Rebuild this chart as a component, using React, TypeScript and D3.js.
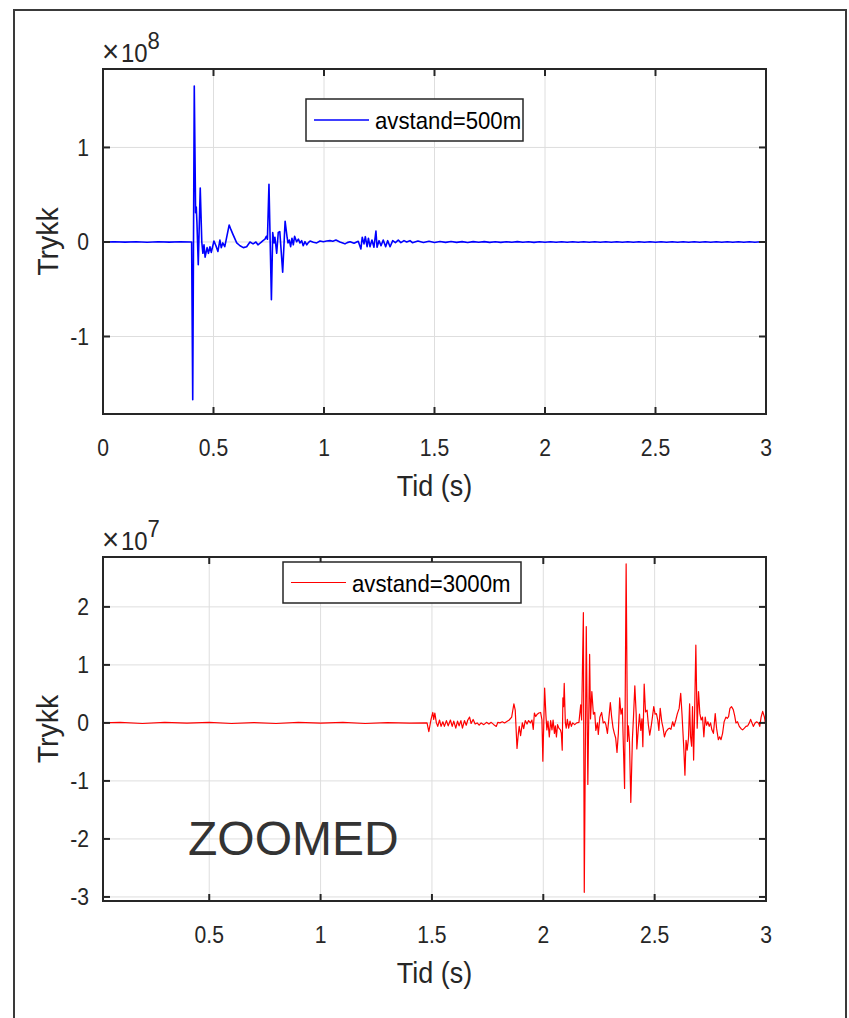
import React from "react";
import * as d3 from "d3";

// ---------- data ----------
const topXTicks = [0, 0.5, 1, 1.5, 2, 2.5, 3];
const topYTicks = [-1, 0, 1];
const bottomXTicks = [0.5, 1, 1.5, 2, 2.5, 3];
const bottomYTicks = [-3, -2, -1, 0, 1, 2];
const topLegend = "avstand=500m";
const bottomLegend = "avstand=3000m";
const xLabel = "Tid (s)";
const yLabel = "Trykk";
const topExponent = "8";
const bottomExponent = "7";
const overlayText = "ZOOMED";

// pressure in units of 1e8, time in s
const blueSeries: [number, number][] = [
  [0, 0], [0.05, 0.003], [0.1, -0.002], [0.15, 0.002], [0.2, -0.003], [0.25, 0.002], [0.3, -0.002], [0.35, 0.003], [0.4, 0],
  [0.401, 0], [0.406, -1.67], [0.413, 1.65], [0.419, 0.31], [0.422, 0.37], [0.425, 0.21], [0.431, -0.24], [0.44, 0.57],
  [0.447, 0.0], [0.452, -0.12], [0.457, -0.03], [0.462, -0.16], [0.471, -0.06], [0.477, -0.12], [0.484, -0.05], [0.49, -0.11],
  [0.502, 0.01], [0.511, -0.04], [0.52, -0.1], [0.529, 0.02], [0.535, -0.06], [0.542, -0.01], [0.551, -0.05], [0.557, 0.02],
  [0.571, 0.18], [0.579, 0.13], [0.588, 0.08], [0.605, -0.01], [0.62, -0.04], [0.635, -0.06], [0.65, -0.05], [0.665, 0.0],
  [0.679, -0.02], [0.692, 0], [0.701, -0.03], [0.715, -0.005], [0.724, 0.015], [0.733, 0.03], [0.739, 0.06], [0.744, 0.03],
  [0.751, 0.61], [0.762, -0.61], [0.768, 0.1], [0.774, -0.01], [0.778, 0.05], [0.786, -0.12], [0.793, 0.1], [0.8, 0.11],
  [0.813, -0.32], [0.824, 0.22], [0.833, 0.05], [0.837, -0.01], [0.843, 0.02], [0.849, -0.05], [0.855, 0.04], [0.861, -0.03],
  [0.867, 0.06], [0.876, 0.003], [0.884, 0.03], [0.891, -0.01], [0.899, 0.014], [0.906, -0.04], [0.914, 0.003], [0.922, -0.03],
  [0.929, -0.007], [0.937, 0.01], [0.952, -0.003], [0.967, -0.01], [0.982, 0.01], [0.997, 0.003], [1.012, 0.01], [1.027, 0.014],
  [1.04, 0.008], [1.054, 0.02], [1.072, 0], [1.085, -0.01], [1.095, -0.02], [1.105, -0.007], [1.118, 0.003], [1.136, -0.014],
  [1.155, 0.007], [1.167, -0.074], [1.173, 0.05], [1.181, -0.02], [1.187, 0.056], [1.195, -0.05], [1.201, 0.04], [1.208, -0.05],
  [1.217, 0.02], [1.226, -0.056], [1.235, 0.116], [1.24, -0.056], [1.249, 0.014], [1.258, -0.04], [1.268, 0.02], [1.279, -0.05],
  [1.288, 0.014], [1.299, -0.05], [1.311, 0.014], [1.323, -0.007], [1.336, 0.02], [1.348, -0.007], [1.362, 0.014], [1.374, 0],
  [1.389, 0.014], [1.4, -0.008], [1.425, 0.01], [1.45, -0.006], [1.475, 0.008], [1.5, -0.006], [1.525, 0.005], [1.55, -0.004],
  [1.575, 0.005], [1.6, -0.004], [1.625, 0.004], [1.65, -0.005], [1.675, 0.004], [1.7, -0.003], [1.725, 0.004], [1.75, -0.004],
  [1.775, 0.003], [1.8, -0.004], [1.825, 0.003], [1.85, -0.003], [1.875, 0.004], [1.9, -0.003], [1.925, 0.003], [1.95, -0.004],
  [1.975, 0.003], [2.0, -0.003], [2.025, 0.003], [2.05, -0.003], [2.075, 0.003], [2.1, -0.003], [2.125, 0.003], [2.15, -0.003],
  [2.175, 0.003], [2.2, -0.003], [2.225, 0.003], [2.25, -0.003], [2.275, 0.003], [2.3, -0.003], [2.325, 0.003], [2.35, -0.003],
  [2.375, 0.003], [2.4, -0.003], [2.425, 0.003], [2.45, -0.003], [2.475, 0.003], [2.5, -0.003], [2.525, 0.003], [2.55, -0.003],
  [2.575, 0.003], [2.6, -0.003], [2.625, 0.003], [2.65, -0.003], [2.675, 0.003], [2.7, -0.003], [2.725, 0.003], [2.75, -0.003],
  [2.775, 0.003], [2.8, -0.003], [2.825, 0.003], [2.85, -0.003], [2.875, 0.003], [2.9, -0.003], [2.925, 0.003], [2.95, -0.003],
  [2.975, 0.003], [3.0, 0],
];

// pressure in units of 1e7, time in s
const redSeries: [number, number][] = [
  [0.023, 0], [0.1, 0.01], [0.2, -0.01], [0.3, 0.01], [0.4, -0.005], [0.5, 0.01], [0.6, -0.01], [0.7, 0.005], [0.8, -0.01],
  [0.9, 0.01], [1.0, -0.005], [1.1, 0.01], [1.2, -0.01], [1.3, 0.005], [1.4, -0.005], [1.478, 0],
  [1.486, -0.15], [1.496, 0.06], [1.504, 0.18], [1.508, 0.06], [1.513, 0.17], [1.52, 0], [1.526, -0.06], [1.534, 0.05],
  [1.541, -0.06], [1.549, 0.02], [1.556, -0.06], [1.565, 0.04], [1.573, -0.05], [1.583, 0.05], [1.591, -0.06], [1.598, 0.03],
  [1.607, -0.09], [1.615, 0.03], [1.622, -0.05], [1.63, 0.04], [1.637, -0.09], [1.646, 0.04], [1.654, -0.04], [1.661, 0.05],
  [1.669, 0.1], [1.676, -0.01], [1.685, 0.06], [1.694, -0.02], [1.703, 0], [1.712, -0.04], [1.721, 0], [1.733, -0.03],
  [1.745, 0.01], [1.756, -0.02], [1.766, 0.01], [1.778, -0.03], [1.789, -0.06], [1.796, 0.01], [1.805, 0], [1.816, 0.02],
  [1.826, 0], [1.838, 0.03], [1.847, 0.05], [1.858, 0.1], [1.868, 0.33], [1.874, 0.22], [1.882, -0.44], [1.888, -0.18],
  [1.892, -0.06], [1.898, -0.22], [1.906, 0], [1.912, -0.1], [1.919, 0.04], [1.927, -0.02], [1.934, 0.04], [1.942, 0],
  [1.949, 0.05], [1.955, -0.11], [1.96, 0.17], [1.966, 0.11], [1.973, 0.15], [1.98, 0.17], [1.988, 0.18], [1.994, 0.05],
  [1.998, -0.66], [2.006, 0.6], [2.012, 0.12], [2.016, -0.12], [2.021, 0.03], [2.027, -0.24], [2.033, 0.04], [2.039, -0.12],
  [2.044, 0.05], [2.05, -0.18], [2.054, -0.05], [2.059, -0.24], [2.064, -0.03], [2.07, -0.09], [2.077, -0.12], [2.081, -0.18],
  [2.085, -0.47], [2.088, 0.43], [2.091, 0.28], [2.094, 0.68], [2.099, 0], [2.103, -0.09], [2.108, 0.06], [2.114, -0.09],
  [2.12, 0.03], [2.126, -0.06], [2.132, 0], [2.141, -0.03], [2.15, 0], [2.16, 0.01], [2.168, 0.31], [2.172, 0.05],
  [2.18, 1.9], [2.184, -2.92], [2.193, 1.66], [2.2, -1.06], [2.208, 1.18], [2.212, 0.07], [2.218, 0.54], [2.225, 0.15],
  [2.231, 0.18], [2.236, -0.13], [2.243, 0], [2.247, -0.2], [2.254, 0.1], [2.262, 0.18], [2.269, 0], [2.276, 0.02],
  [2.281, -0.03], [2.288, -0.18], [2.294, 0.06], [2.301, 0.35], [2.307, 0.1], [2.313, -0.08], [2.319, -0.18], [2.325, -0.26],
  [2.331, -0.51], [2.337, -0.18], [2.343, 0.43], [2.349, 0.15], [2.355, 0.25], [2.359, -0.32], [2.365, -1.13], [2.372, 2.74],
  [2.378, -0.32], [2.382, -0.05], [2.387, -0.32], [2.393, -1.37], [2.4, -0.29], [2.405, 0.1], [2.411, 0.64], [2.417, 0.16],
  [2.42, -0.45], [2.426, -0.13], [2.432, 0.15], [2.438, -0.13], [2.443, 0.07], [2.447, -0.41], [2.453, 0.67], [2.459, 0.19],
  [2.466, 0.22], [2.472, -0.04], [2.478, -0.21], [2.484, -0.07], [2.49, 0.1], [2.496, 0.28], [2.502, 0.15], [2.508, 0.16],
  [2.514, 0.05], [2.519, -0.13], [2.525, 0.25], [2.532, 0.02], [2.538, -0.09], [2.544, -0.24], [2.551, -0.15], [2.559, -0.11],
  [2.566, -0.09], [2.573, -0.11], [2.581, 0.02], [2.587, -0.06], [2.595, 0.05], [2.602, 0.16], [2.61, 0.25], [2.617, 0.51],
  [2.623, 0.14], [2.631, -0.45], [2.636, -0.9], [2.641, -0.3], [2.646, -0.47], [2.652, -0.26], [2.657, 0.33], [2.661, -0.23],
  [2.666, -0.4], [2.67, 0.28], [2.675, -0.64], [2.68, 0.28], [2.685, 1.34], [2.691, -0.09], [2.697, 0.54], [2.703, 0.16],
  [2.709, 0.05], [2.715, 0.1], [2.721, -0.24], [2.727, 0.1], [2.733, -0.04], [2.739, 0.02], [2.745, -0.06], [2.751, 0],
  [2.757, -0.12], [2.764, -0.18], [2.772, 0.16], [2.778, -0.09], [2.786, -0.29], [2.792, -0.24], [2.798, -0.29], [2.805, -0.18],
  [2.812, 0.02], [2.82, 0.1], [2.826, 0.08], [2.832, 0.11], [2.838, 0.25], [2.845, 0.28], [2.853, 0.23], [2.859, 0.13],
  [2.865, 0], [2.872, 0.02], [2.88, -0.06], [2.888, -0.1], [2.895, -0.12], [2.903, -0.09], [2.91, -0.06], [2.918, -0.05],
  [2.925, 0], [2.931, 0.06], [2.937, 0], [2.943, -0.06], [2.951, 0], [2.958, 0.02], [2.966, 0], [2.972, -0.06],
  [2.978, 0.1], [2.985, 0.2], [2.993, 0.1], [2.997, 0], [3.0, -0.03],
];

// ---------- layout ----------
const W = 849;
const H = 1018;
const FONT = "'Liberation Sans', Arial, Helvetica, sans-serif";
const AX = "#262626";
const GRID = "#dedede";
const TICK = 7;
const SX = 0.88; // horizontal condensing of the text

type TProps = {
  x: number;
  y: number;
  size: number;
  anchor?: "start" | "middle" | "end";
  rotate?: number;
  sx?: number;
  fill?: string;
  children: React.ReactNode;
};

function T({ x, y, size, anchor = "start", rotate = 0, sx = SX, fill = AX, children }: TProps) {
  return (
    <text
      transform={`translate(${x},${y}) rotate(${rotate}) scale(${sx},1)`}
      textAnchor={anchor}
      fontFamily={FONT}
      fontSize={size}
      fill={fill}
    >
      {children}
    </text>
  );
}

type PanelProps = {
  id: string;
  x: d3.ScaleLinear<number, number>;
  y: d3.ScaleLinear<number, number>;
  xTicks: number[];
  yTicks: number[];
  data: [number, number][];
  color: string;
  lineWidth: number;
  legend: string;
  legendBox: { x: number; y: number; w: number; h: number };
  exponent: string;
};

function Panel(p: PanelProps) {
  const [x0, x1] = p.x.range();
  const [y0, y1] = p.y.range(); // y0 bottom, y1 top
  const line = d3
    .line<[number, number]>()
    .x((d) => p.x(d[0]))
    .y((d) => p.y(d[1]));
  const lb = p.legendBox;
  const lyMid = lb.y + lb.h / 2;
  return (
    <g>
      <defs>
        <clipPath id={p.id}>
          <rect x={x0} y={y1} width={x1 - x0} height={y0 - y1} />
        </clipPath>
      </defs>
      <rect x={x0} y={y1} width={x1 - x0} height={y0 - y1} fill="#ffffff" />
      {p.xTicks.map((t) => (
        <line key={"gx" + t} x1={p.x(t)} x2={p.x(t)} y1={y0} y2={y1} stroke={GRID} strokeWidth={1} />
      ))}
      {p.yTicks.map((t) => (
        <line key={"gy" + t} x1={x0} x2={x1} y1={p.y(t)} y2={p.y(t)} stroke={GRID} strokeWidth={1} />
      ))}
      <path
        d={line(p.data) || ""}
        fill="none"
        stroke={p.color}
        strokeWidth={p.lineWidth}
        strokeLinejoin="round"
        clipPath={`url(#${p.id})`}
      />
      {p.xTicks.map((t) => (
        <g key={"tx" + t}>
          <line x1={p.x(t)} x2={p.x(t)} y1={y0} y2={y0 - TICK} stroke={AX} strokeWidth={2} />
          <line x1={p.x(t)} x2={p.x(t)} y1={y1} y2={y1 + TICK} stroke={AX} strokeWidth={2} />
          <T x={p.x(t)} y={y0 + 42} size={24} anchor="middle">
            {String(t)}
          </T>
        </g>
      ))}
      {p.yTicks.map((t) => (
        <g key={"ty" + t}>
          <line x1={x0} x2={x0 + TICK} y1={p.y(t)} y2={p.y(t)} stroke={AX} strokeWidth={2} />
          <line x1={x1} x2={x1 - TICK} y1={p.y(t)} y2={p.y(t)} stroke={AX} strokeWidth={2} />
          <T x={x0 - 14} y={p.y(t) + 8.5} size={24} anchor="end">
            {String(t)}
          </T>
        </g>
      ))}
      <rect x={x0} y={y1} width={x1 - x0} height={y0 - y1} fill="none" stroke={AX} strokeWidth={2} />
      {/* legend */}
      <rect x={lb.x} y={lb.y} width={lb.w} height={lb.h} fill="#ffffff" stroke={AX} strokeWidth={1.5} />
      <line x1={lb.x + 8} x2={lb.x + 63} y1={lyMid} y2={lyMid} stroke={p.color} strokeWidth={p.lineWidth} />
      <T x={lb.x + 69} y={lyMid + 9} size={24} fill="#000000" sx={0.925}>
        {p.legend}
      </T>
      {/* axis labels */}
      <T x={(x0 + x1) / 2} y={y0 + 82} size={29} anchor="middle" sx={0.93}>
        {xLabel}
      </T>
      <T x={58} y={(y0 + y1) / 2} size={29} anchor="middle" rotate={-90} sx={0.98}>
        {yLabel}
      </T>
      {/* exponent */}
      <text
        transform={`translate(${x0 - 1},${y1 - 7}) scale(0.92,1)`}
        fontFamily={FONT}
        fontSize={26}
        fill={AX}
      >
        <tspan fontSize={32} fontWeight={300}>×</tspan>
        <tspan dx={2}>10</tspan>
        <tspan dy={-13} fontSize={24}>{p.exponent}</tspan>
      </text>
    </g>
  );
}

export default function App() {
  const xTop = d3.scaleLinear().domain([0, 3]).range([103, 766]);
  const yTop = d3.scaleLinear().domain([-1.82, 1.83]).range([414, 69]);
  const xBot = d3.scaleLinear().domain([0.023, 3]).range([103, 766]);
  const yBot = d3.scaleLinear().domain([-3.07, 2.86]).range([901, 557]);

  return (
    <svg
      width={W}
      height={H}
      viewBox={`0 0 ${W} ${H}`}
      style={{ position: "absolute", left: 0, top: 0, background: "#ffffff" }}
    >
      <rect x={0} y={0} width={W} height={H} fill="#ffffff" />
      <rect x={14} y={10} width={832} height={1100} fill="#ffffff" stroke="#3a3a3a" strokeWidth={2} />
      <Panel
        id="clipTop"
        x={xTop}
        y={yTop}
        xTicks={topXTicks}
        yTicks={topYTicks}
        data={blueSeries}
        color="#0000ff"
        lineWidth={1.6}
        legend={topLegend}
        legendBox={{ x: 306, y: 99, w: 217, h: 42 }}
        exponent={topExponent}
      />
      <Panel
        id="clipBot"
        x={xBot}
        y={yBot}
        xTicks={bottomXTicks}
        yTicks={bottomYTicks}
        data={redSeries}
        color="#ff0000"
        lineWidth={1.2}
        legend={bottomLegend}
        legendBox={{ x: 283, y: 562, w: 238, h: 41 }}
        exponent={bottomExponent}
      />
      <text x={188} y={855} fontFamily={FONT} fontSize={48} fill="#333333">
        {overlayText}
      </text>
    </svg>
  );
}
